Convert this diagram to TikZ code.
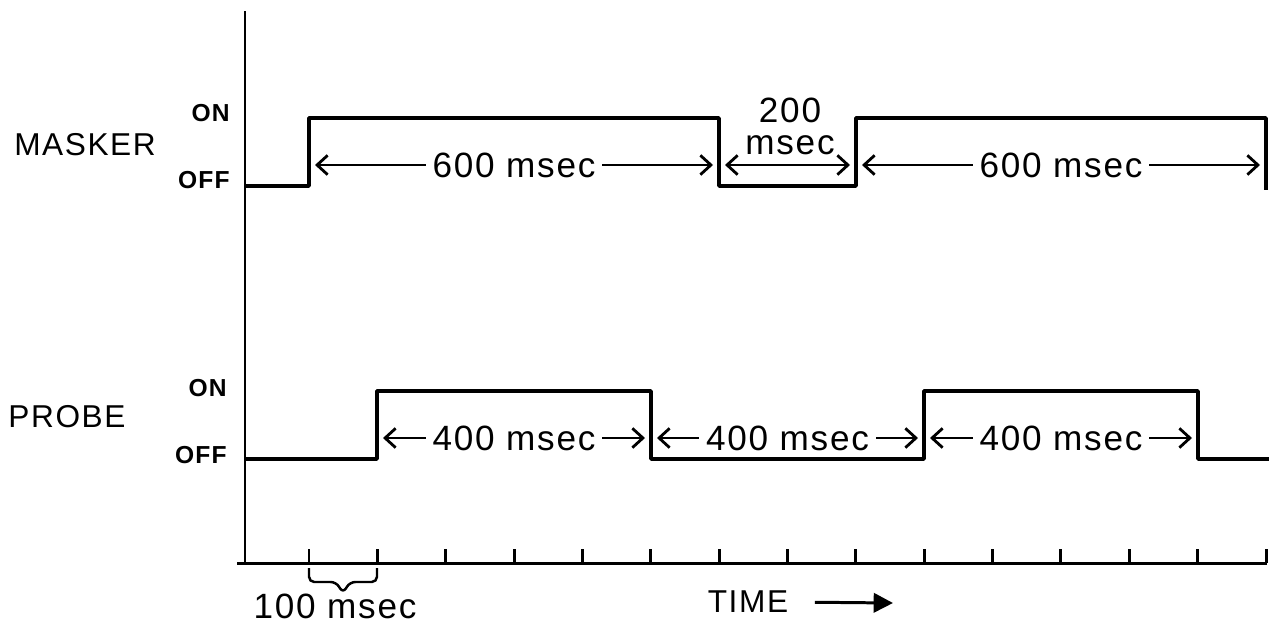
\documentclass[tikz,border=0pt]{standalone}
\usepackage{fontspec}
\setmainfont{Liberation Sans}[LetterSpace=5]
\usetikzlibrary{arrows.meta, positioning, calc}

\begin{document}
\begin{tikzpicture}[
  x=0.02cm, y=-0.02cm,
  signal/.style={line width=2.1pt, line join=round},
  axis/.style={line width=1.7pt},
  dim/.style={{Straight Barb[length=6pt,width=11pt]}-{Straight Barb[length=6pt,width=11pt]}, line width=1.6pt},
  dur/.style={font=\fontsize{20}{22}\selectfont, fill=white, inner sep=4pt},
  chan/.style={font=\fontsize{18}{20}\selectfont, inner sep=0pt},
  lvl/.style={font=\fontsize{14}{16}\selectfont\bfseries, inner sep=0pt, anchor=east}
]
\useasboundingbox (0,0) rectangle (1269,626);

% axes and time ticks (100 msec each)
\coordinate (ytop) at (245,11);
\coordinate (orig) at (245,563);
\coordinate (xleft) at (237,563);
\coordinate (xright) at (1267,563);
\draw[axis] (ytop) -- (orig);
\draw[axis] (xleft) -- (xright);
\foreach \k in {0,...,14}
  \draw[axis] ({309+68.36*\k},563) -- ++(0,-14);

% channel labels
\node[chan] (masker) at (85,145) {MASKER};
\node[lvl] (mon) at (230,113) {ON};
\node[lvl] (moff) at (230,180) {OFF};
\node[chan] (probe) at (67,417) {PROBE};
\node[lvl] (pon) at (227,388) {ON};
\node[lvl] (poff) at (227,455) {OFF};

% masker trace
\draw[signal] (245,186) -- (309,186) -- (309,118) -- (719,118) -- (719,186)
  -- (856,186) -- (856,118) -- (1266,118) -- (1266,190);

% probe trace
\draw[signal] (245,459) -- (377,459) -- (377,391) -- (651,391) -- (651,459)
  -- (924,459) -- (924,391) -- (1198,391) -- (1198,459) -- (1269,459);

% masker durations
\coordinate (ma1) at (315,165);
\coordinate (mb1) at (713,165);
\coordinate (ma2) at (725,165);
\coordinate (mb2) at (850,165);
\coordinate (ma3) at (862,165);
\coordinate (mb3) at (1260,165);
\draw[dim] (ma1) -- node[dur] {600 msec} (mb1);
\draw[dim] (ma2) -- (mb2);
\node[dur, fill=none, inner sep=0pt] (gap200) at (790,110) {200};
\node[dur, fill=none, inner sep=0pt] (gapms) at (790,145) {msec};
\draw[dim] (ma3) -- node[dur] {600 msec} (mb3);

% probe durations
\coordinate (pa1) at (383,438);
\coordinate (pb1) at (645,438);
\coordinate (pa2) at (657,438);
\coordinate (pb2) at (918,438);
\coordinate (pa3) at (930,438);
\coordinate (pb3) at (1192,438);
\draw[dim] (pa1) -- node[dur] {400 msec} (pb1);
\draw[dim] (pa2) -- node[dur] {400 msec} (pb2);
\draw[dim] (pa3) -- node[dur] {400 msec} (pb3);

% 100 msec brace
\draw[line width=1.4pt, rounded corners=3pt] (309,568) -- (309,582) -- (336,582)
  -- (343,593) -- (350,582) -- (377,582) -- (377,568);
\node[dur, fill=none, inner sep=0pt] (onetick) at (335,606) {100 msec};

% time label
\node[chan] (time) at (748,602) {TIME};
\coordinate (timeend) at (893,603);
\draw[line width=1.7pt, -{Triangle[length=11pt,width=11pt]}, shorten <=15pt] (time.east) -- (timeend);
\end{tikzpicture}
\end{document}
